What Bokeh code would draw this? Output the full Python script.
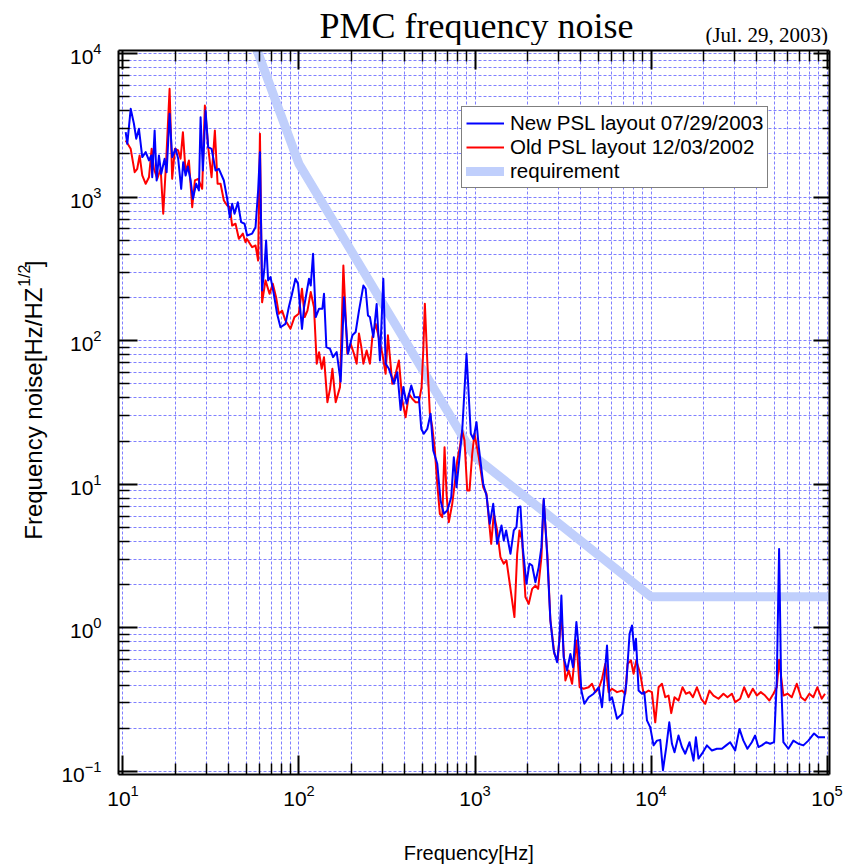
import math
from bokeh.plotting import figure
from bokeh.layouts import column, row
from bokeh.models import (Range1d, LogAxis, FixedTicker, Legend, LegendItem,
                          CustomJSTickFormatter)
from bokeh.core.properties import value
from bokeh.embed import file_html
from bokeh.resources import INLINE

# ---------------- data ----------------
blue_f = [10.36, 10.58, 11.06, 11.54, 11.89, 12.32, 12.87, 13.46, 14.05, 14.48,
          14.66, 15.13, 15.53, 16.01, 16.49, 17.24, 17.70, 18.40, 19.03, 19.90,
          20.59, 21.41, 21.99, 22.69, 23.38, 24.22, 24.96, 26.06, 27.00, 27.60,
          28.44, 29.46, 30.48, 31.86, 33.57, 35.05, 37.42, 39.07, 40.47, 41.70,
          43.04, 44.93, 46.91, 49.05, 50.74, 54.17, 56.63, 58.58, 60.0, 61.72,
          63.69, 65.03, 66.76, 68.88, 71.92, 75.08, 78.49, 83.80, 87.49, 91.34,
          95.47, 98.76, 104.0, 106.8, 114.0, 116.6, 120.2, 124.5, 130.0, 135.8,
          138.7, 143.1, 150.1, 156.1, 163.7, 172.5, 180.2, 189.8, 201.1, 209.9,
          219.2, 232.1, 239.2, 246.5, 253.0, 264.5, 276.2, 288.3, 301.4, 310.6,
          324.3, 346.3, 362.0, 377.9, 391.5, 408.7, 434.5, 453.7, 479.9, 495.2,
          512.3, 535.5, 559.2, 579.2, 610.3, 637.2, 665.3, 695.5, 732.7, 758.1,
          785.3, 820.0, 846.1, 894.9, 946.6, 980.6, 1020, 1051, 1113, 1162,
          1213, 1269, 1336, 1414, 1457, 1503, 1590, 1661, 1720, 1758,
          1812, 1867, 1960, 2038, 2112, 2204, 2301, 2384, 2457, 2569,
          2681, 2799, 2927, 3016, 3096, 3189, 3336, 3483, 3608, 3767,
          3881, 4021, 4181, 4423, 4722, 5040, 5269, 5624, 5819, 6003,
          6410, 6842, 7237, 7556, 7797, 8034, 8214, 8500, 8884, 9156,
          9484, 9902, 10340, 10810, 11280, 11690, 12210, 12700, 13150, 13600,
          14330, 14980, 15650, 16550, 17440, 17990, 18610, 19710, 20770, 22180,
          23670, 25270, 26730, 28160, 30070, 31800, 33500, 35300, 37390, 39040,
          40760, 42610, 45070, 47490, 50040, 51830, 53430, 54830, 56500, 60320,
          64410, 68740, 73380, 78340, 84400, 89250, 97410]
blue_v = [2830, 2350, 4120, 3240, 2550, 2990, 1900, 2055, 1800, 1950,
          1376, 2910, 1305, 1950, 1453, 1848, 1491, 3800, 1896, 2169,
          1848, 1142, 1750, 1414, 1634, 1305, 973, 1238, 1112, 3600,
          1531, 4010, 2226, 2169, 1531, 1574, 1305, 973, 724, 898,
          765, 921, 669, 652, 540, 557, 617, 1112, 2055, 224,
          325, 499, 263, 277, 212, 154, 124, 131, 171, 212,
          270, 249, 121, 171, 270, 242, 403, 146, 167, 167,
          212, 90.1, 87.8, 76.8, 83.2, 51.9, 201, 81.1, 109, 115,
          162, 242, 230, 150, 146, 106, 180, 72.8, 270, 69.1,
          63.7, 50.1, 60.3, 32.9, 47.5, 36.4, 48.8, 40.4, 40.4, 24.3,
          22.5, 24.3, 31.0, 17.2, 13.9, 7.71, 6.23, 6.57, 8.13, 15.4,
          9.54, 16.3, 23.7, 81.1, 22.5, 20.7, 27.1, 18.1, 10.1, 8.36,
          5.31, 7.31, 3.85, 5.17, 4.06, 4.77, 3.28, 4.77, 5.03, 6.93,
          7.01, 3.65, 2.03, 2.80, 2.72, 2.08, 2.65, 3.65, 7.93, 3.28,
          1.13, 0.696, 0.577, 0.817, 1.68, 0.625, 0.505, 0.659, 0.532, 1.10,
          0.734, 0.366, 0.296, 0.329, 0.348, 0.386, 0.280, 0.754, 0.312, 0.329,
          0.233, 0.252, 0.408, 0.910, 1.04, 0.696, 0.840, 0.366, 0.348, 0.357,
          0.227, 0.203, 0.152, 0.164, 0.166, 0.102, 0.148, 0.220, 0.156, 0.136,
          0.178, 0.148, 0.133, 0.160, 0.119, 0.173, 0.123, 0.136, 0.152, 0.140,
          0.144, 0.144, 0.152, 0.160, 0.140, 0.198, 0.164, 0.144, 0.160, 0.178,
          0.148, 0.152, 0.160, 0.156, 0.160, 0.430, 3.55, 0.430, 0.160, 0.144,
          0.164, 0.156, 0.152, 0.164, 0.184, 0.173, 0.173]

red_f = [10.36, 11.06, 11.65, 12.05, 12.43, 12.87, 13.46, 14.05, 14.55, 14.99,
         15.66, 16.37, 16.93, 17.60, 18.40, 19.03, 19.72, 20.59, 21.24, 21.90,
         22.69, 23.69, 24.73, 25.62, 26.75, 28.18, 29.19, 30.48, 31.86, 33.27,
         34.47, 35.84, 37.42, 39.07, 40.47, 41.70, 43.60, 45.53, 47.97, 49.69,
         50.55, 54.17, 56.63, 58.58, 60.0, 61.72, 64.53, 68.00, 70.98, 74.10,
         76.77, 80.15, 83.80, 89.45, 94.22, 99.7, 104.0, 107.8, 111.7, 116.6,
         121.7, 126.1, 130.0, 134.6, 138.7, 145.0, 150.1, 154.8, 161.6, 171.0,
         178.7, 188.3, 196.7, 205.3, 212.7, 219.2, 226.1, 232.1, 242.3, 253.0,
         261.1, 272.6, 280.9, 297.6, 310.6, 320.1, 328.6, 339.0, 354.0, 369.6,
         386.4, 403.4, 421.2, 440.3, 459.7, 479.9, 497.1, 508.3, 519.0, 535.5,
         554.1, 571.8, 591.5, 610.3, 631.4, 651.5, 671.4, 689.2, 710.2, 742.4,
         775.2, 792.5, 820.0, 846.1, 871.8, 903.2, 930.7, 964.1, 993.5, 1051,
         1113, 1162, 1236, 1279, 1336, 1395, 1457, 1509, 1576, 1675,
         1736, 1789, 1853, 1934, 2020, 2112, 2204, 2284, 2384, 2457,
         2588, 2681, 2825, 2950, 3096, 3262, 3406, 3561, 3767, 3932,
         4143, 4423, 4623, 4828, 5040, 5269, 5502, 5743, 6003, 6410,
         6842, 7144, 7363, 7695, 7961, 8247, 8690, 9073, 9685, 10120,
         10570, 11040, 11540, 12050, 12580, 13030, 13600, 14330, 15100, 15790,
         16550, 17300, 18230, 19280, 20320, 21490, 22640, 24170, 25800, 27190,
         28800, 30070, 32090, 33810, 35770, 37880, 39920, 42060, 44480, 47060,
         49590, 51830, 53430, 56500, 59840, 63050, 67310, 71200, 75040, 79350,
         83620, 88100, 93310, 97410]
red_v = [2479, 2169, 1491, 1574, 1949, 1414, 1238, 1376, 2169, 1574,
         1341, 1574, 765, 1798, 5679, 1341, 2169, 2111, 1848, 2831,
         1491, 1798, 851, 1305, 1341, 1142, 4344, 2226, 1376, 2910,
         1238, 1238, 947, 874, 851, 634, 652, 512, 557, 485,
         512, 448, 460, 362, 2759, 185, 263, 212, 249, 201,
         154, 162, 138, 121, 146, 154, 230, 146, 162, 218,
         171, 69.1, 83.2, 63.7, 76.8, 37.3, 46.2, 63.7, 37.3, 47.5,
         334, 81.1, 95.1, 81.1, 69.1, 112, 90.1, 69.1, 85.5, 69.1,
         106, 131, 112, 81.1, 58.8, 109, 76.8, 50.1, 58.8, 72.8,
         38.3, 29.3, 42.7, 39.4, 37.3, 37.3, 47.5, 85.5, 181, 72.8,
         31.0, 25.0, 17.2, 10.1, 6.23, 5.90, 18.1, 8.59, 5.45, 7.31,
         11.2, 14.6, 18.1, 23.7, 20.2, 9.05, 9.05, 16.3, 22.5, 15.4,
         9.54, 8.59, 3.85, 6.23, 4.77, 3.11, 2.80, 2.95, 2.03, 1.19,
         3.28, 4.77, 4.06, 1.64, 1.47, 1.87, 1.97, 1.87, 3.11, 7.71,
         2.95, 1.13, 0.659, 0.593, 1.25, 0.430, 0.505, 0.408, 0.817, 0.386,
         0.377, 0.386, 0.408, 0.357, 0.377, 0.442, 0.562, 0.357, 0.377, 0.357,
         0.366, 0.348, 0.562, 0.593, 0.479, 0.593, 0.479, 0.348, 0.366, 0.357,
         0.220, 0.386, 0.408, 0.329, 0.338, 0.255, 0.329, 0.312, 0.386, 0.348,
         0.357, 0.329, 0.386, 0.321, 0.296, 0.366, 0.338, 0.321, 0.348, 0.329,
         0.348, 0.304, 0.321, 0.386, 0.329, 0.377, 0.338, 0.357, 0.338, 0.312,
         0.348, 0.386, 0.600, 0.338, 0.348, 0.329, 0.408, 0.329, 0.312, 0.348,
         0.329, 0.386, 0.321, 0.348]

req_f = [57, 100, 1000, 10000, 100000]
req_v = [11000, 1700, 15.5, 1.65, 1.65]

x_major = [10, 100, 1000, 10000, 100000]
y_major = [0.1, 1, 10, 100, 1000, 10000]
x_decades = [10, 100, 1000, 10000]
y_decades = [0.1, 1, 10, 100, 1000]

labels_legend = ["New PSL layout 07/29/2003", "Old PSL layout 12/03/2002", "requirement"]
title_text = "PMC frequency noise"
date_text = "(Jul. 29, 2003)"
xlabel_text = "Frequency[Hz]"
ylabel_main = "Frequency noise[Hz/HZ"
ylabel_sup = "1/2"
ylabel_end = "]"

# ---------------- page geometry (pixels) ----------------
PAGE_W, PAGE_H = 843, 864
BAND_H = 3                  # magenta rule at the top
YLAB_W, TICKLAB_W = 50, 54  # y-title strip, y tick-label strip
RIGHT_W = PAGE_W - YLAB_W - TICKLAB_W   # 739
HEAD_H, FOOT_H = 42, 40
BODY_H = PAGE_H - BAND_H
MAIN_H = BODY_H - HEAD_H - FOOT_H       # 779
X0 = YLAB_W + TICKLAB_W                 # page x where right column starts (104)
FRAME_TOP, FRAME_BOTTOM = 50, 774
Y_RANGE = (0.0953, 10490)
X_RANGE = (9.43, 1.033e5)


def blank(w, h):
    f = figure(width=w, height=h, x_range=Range1d(0, w), y_range=Range1d(0, h),
               output_backend="svg", toolbar_location=None, min_border=0,
               x_axis_location=None, y_axis_location=None)
    f.outline_line_color = None
    for g in f.grid:
        g.visible = False
    f.background_fill_color = "white"
    f.border_fill_color = "white"
    return f


def sans(size):
    return dict(text_font=value("Liberation Sans"), text_font_size=value(f"{size}px"),
                text_color="black")


# ---------------- magenta rule ----------------
band = blank(PAGE_W, BAND_H)
band.quad(left=[0], right=[PAGE_W], bottom=[0], top=[BAND_H],
          fill_color="#d63cae", line_color=None)

# ---------------- y title strip (with superscript) ----------------
ylab = blank(YLAB_W, BODY_H)
YFS, SUPFS = 24, 16
W_SUP = 1.39 * SUPFS
main_end = 285
ylab.text(x=[33], y=[PAGE_H - main_end], text=[ylabel_main], angle=math.pi / 2,
          text_align="right", text_baseline="middle", **sans(YFS))
ylab.text(x=[24], y=[PAGE_H - main_end + 1], text=[ylabel_sup], angle=math.pi / 2,
          text_align="left", text_baseline="middle", **sans(SUPFS))
ylab.text(x=[33], y=[PAGE_H - main_end + W_SUP + 2], text=[ylabel_end], angle=math.pi / 2,
          text_align="left", text_baseline="middle", **sans(YFS))

# ---------------- y tick-label strip ----------------
ytl = figure(width=TICKLAB_W, height=BODY_H, y_axis_type="log",
             x_range=Range1d(0, 1), y_range=Range1d(*Y_RANGE),
             output_backend="svg", toolbar_location=None, x_axis_location=None,
             min_border_left=TICKLAB_W - 1, min_border_right=0,
             min_border_top=FRAME_TOP - BAND_H, min_border_bottom=PAGE_H - FRAME_BOTTOM)
ytl.outline_line_color = None
for g in ytl.grid:
    g.visible = False
ytl.background_fill_color = "white"
ytl.border_fill_color = "white"
ya = ytl.yaxis[0]
ya.ticker = FixedTicker(ticks=y_major, minor_ticks=[])
ya.axis_line_color = None
ya.major_tick_line_color = None
ya.minor_tick_line_color = None
ya.major_tick_in = 0
ya.major_tick_out = 0
ya.minor_tick_in = 0
ya.minor_tick_out = 0
ya.major_label_standoff = 2
ya.major_label_text_font = "Liberation Sans"
ya.major_label_text_font_size = "21px"
ya.major_label_text_color = "black"

# ---------------- header: title and date ----------------
head = blank(RIGHT_W, HEAD_H)
head.text(x=[476 - X0], y=[BAND_H + HEAD_H - 25], text=[title_text],
          text_font=value("Liberation Serif"), text_font_size=value("36px"),
          text_align="center", text_baseline="middle", text_color="black")
head.text(x=[714 - X0], y=[BAND_H + HEAD_H - 34], text=[date_text],
          text_font=value("Liberation Serif"), text_font_size=value("21px"),
          text_align="left", text_baseline="middle", text_color="black")

# ---------------- footer: x title ----------------
foot = blank(RIGHT_W, FOOT_H)
foot.text(x=[468 - X0], y=[PAGE_H - 852], text=[xlabel_text],
          text_align="center", text_baseline="middle", **sans(20))

# ---------------- main plot ----------------
p = figure(width=RIGHT_W, height=MAIN_H, x_axis_type="log", y_axis_type="log",
           x_range=Range1d(*X_RANGE), y_range=Range1d(*Y_RANGE),
           output_backend="svg", toolbar_location=None,
           min_border_left=118 - X0, min_border_right=PAGE_W - 829,
           min_border_top=FRAME_TOP - BAND_H - HEAD_H,
           min_border_bottom=BAND_H + HEAD_H + MAIN_H - FRAME_BOTTOM)
p.outline_line_color = None
p.background_fill_color = "white"
p.border_fill_color = "white"

p.add_layout(LogAxis(), "above")
p.add_layout(LogAxis(), "right")

x_minor = [m * d for d in x_decades for m in range(2, 10)]
y_minor = [m * d for d in y_decades for m in range(2, 10)]

for ax in p.xaxis:
    ax.ticker = FixedTicker(ticks=x_major, minor_ticks=x_minor)
for ax in p.yaxis:
    ax.ticker = FixedTicker(ticks=y_major, minor_ticks=y_minor)

for ax in p.axis:
    ax.axis_line_width = 2
    ax.axis_line_color = "black"
    ax.major_tick_in = 19
    ax.major_tick_out = 0
    ax.minor_tick_in = 11
    ax.minor_tick_out = 0
    ax.major_tick_line_width = 2
    ax.minor_tick_line_width = 1.5
    ax.major_tick_line_color = "black"
    ax.minor_tick_line_color = "black"
    ax.major_label_text_font = "Liberation Sans"
    ax.major_label_text_font_size = "21px"
    ax.major_label_text_color = "black"

p.below[0].major_label_standoff = 10
for ax in (p.above[0], p.right[0], p.left[0]):
    ax.formatter = CustomJSTickFormatter(code="return ''")
    ax.major_label_text_font_size = "0px"
    ax.major_label_standoff = 0
p.right[0].major_tick_in = 16
p.right[0].minor_tick_in = 7

GRID = "#8080ff"
for g in p.grid:
    g.grid_line_color = GRID
    g.grid_line_dash = "3 2"
    g.grid_line_width = 1
    g.minor_grid_line_color = GRID
    g.minor_grid_line_dash = "3 2"
    g.minor_grid_line_width = 1

rq = p.line(req_f, req_v, line_color="#c0cffc", line_width=9, line_cap="round",
            line_join="round")
rr = p.line(red_f, red_v, line_color="#ff0000", line_width=2, line_join="round")
rb = p.line(blue_f, blue_v, line_color="#0000ff", line_width=2, line_join="round")

legend = Legend(items=[LegendItem(label=labels_legend[0], renderers=[rb]),
                       LegendItem(label=labels_legend[1], renderers=[rr]),
                       LegendItem(label=labels_legend[2], renderers=[rq])],
                location=(343, 586))
legend.label_text_font = "Liberation Sans"
legend.label_text_font_size = "20.5px"
legend.label_text_color = "black"
legend.glyph_width = 38
legend.glyph_height = 20
legend.label_height = 20
legend.label_standoff = 6
legend.spacing = 0
legend.padding = 4
legend.margin = 0
legend.border_line_color = "black"
legend.border_line_width = 1
legend.background_fill_color = "white"
legend.background_fill_alpha = 1
p.add_layout(legend)

right_col = column(head, p, foot, spacing=0)
body = row(ylab, ytl, right_col, spacing=0)
layout = column(band, body, spacing=0)
open("out.html", "w").write(file_html(layout, INLINE))
